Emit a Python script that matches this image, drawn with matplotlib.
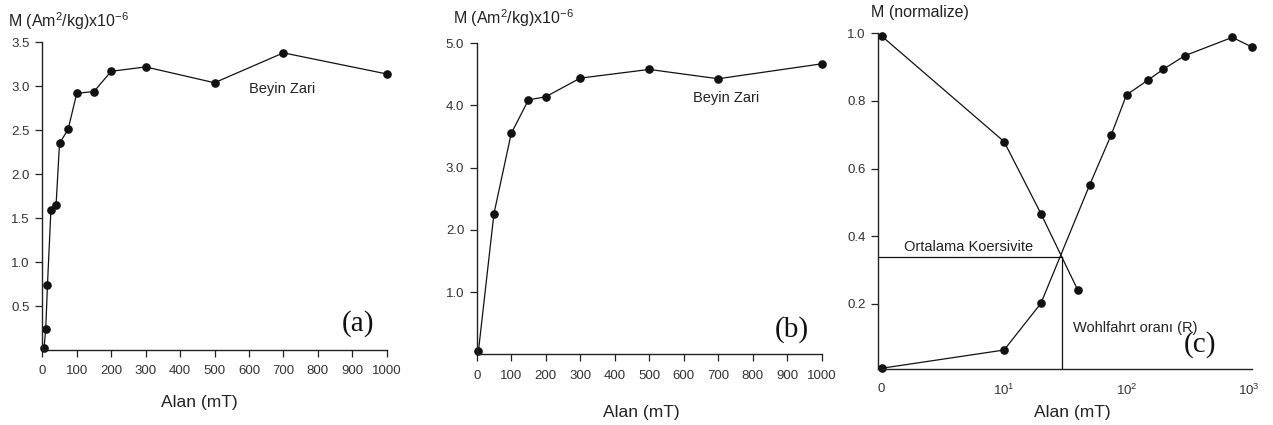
import numpy as np
import matplotlib
matplotlib.use('Agg')
import matplotlib.pyplot as plt

plt.rcParams['font.family'] = ['Liberation Sans', 'DejaVu Sans']
plt.rcParams['mathtext.fontset'] = 'custom'
plt.rcParams['mathtext.rm'] = 'Liberation Sans'
plt.rcParams['mathtext.it'] = 'Liberation Sans'

# (a) Beyin Zari - IRM
alan_a = [5, 10, 15, 25, 40, 50, 75, 100, 150, 200, 300, 500, 700, 1000]
m_a = [0.02, 0.24, 0.74, 1.59, 1.65, 2.35, 2.51, 2.92, 2.94, 3.17, 3.22, 3.04, 3.38, 3.14]

# (b) Beyin Zari
alan_b = [5, 50, 100, 150, 200, 300, 500, 700, 1000]
m_b = [0.05, 2.26, 3.55, 4.09, 4.14, 4.44, 4.58, 4.43, 4.67]

# (c) normalize, "0" label sits at 10^0
alan_c_af = [1, 10, 20, 40]
m_c_af = [0.992, 0.68, 0.467, 0.241]
alan_c_irm = [1, 10, 20, 50, 75, 100, 150, 200, 300, 730, 1050]
m_c_irm = [0.01, 0.064, 0.202, 0.552, 0.70, 0.818, 0.862, 0.894, 0.934, 0.988, 0.96]
kes_x = 29.5   # kesisim noktasi
kes_y = 0.34

ticks_a = [0, 100, 200, 300, 400, 500, 600, 700, 800, 900, 1000]
yticks_a = [0.5, 1.0, 1.5, 2.0, 2.5, 3.0, 3.5]
yticks_b = [1.0, 2.0, 3.0, 4.0, 5.0]
yticks_c = [0.2, 0.4, 0.6, 0.8, 1.0]
xticks_c = [1, 10, 100, 1000]
xlabels_c = ['0', '$10^1$', '$10^2$', '$10^3$']

W, H = 1273, 425
fig = plt.figure(figsize=(W/100, H/100), dpi=100)

def px(x0, y0, x1, y1):
    # pixel kutusu -> figure kesri
    return [x0/W, 1-y1/H, (x1-x0)/W, (y1-y0)/H]

line_kw = dict(color='#111111', lw=0.9, marker='o', ms=5.2, mfc='#111111', mec='#111111', clip_on=False)
tcol = '#333333'

def style(ax):
    ax.spines['top'].set_visible(False)
    ax.spines['right'].set_visible(False)
    for s in ['left', 'bottom']:
        ax.spines[s].set_linewidth(1.0)
        ax.spines[s].set_color('#222222')
    ax.tick_params(direction='out', length=5, width=0.9, color='#222222', labelsize=9.5, labelcolor=tcol)
    ax.tick_params(axis='x', pad=6)
    ax.tick_params(axis='y', pad=4)

ylab = 'M (Am$^2$/kg)x10$^{-6}$'

######## (a)
ax1 = fig.add_axes(px(42.3, 42.3, 386.7, 350))
ax1.plot(alan_a, m_a, **line_kw)
ax1.set_xlim(0, 1000)
ax1.set_ylim(0, 3.5)
ax1.set_xticks(ticks_a)
ax1.set_yticks(yticks_a)
ax1.set_yticklabels(['%.1f' % v for v in yticks_a])
style(ax1)
ax1.text(600, 2.97, 'Beyin Zari', fontsize=10.5, color='#222222', va='center', ha='left')
ax1.text(918, 0.30, '(a)', fontsize=21, family='Liberation Serif', va='center', ha='center', color='#111111')
fig.text(8/W, 1-21/H, ylab, fontsize=11.5, va='center', ha='left', color='#222222')
fig.text(199/W, 1-403/H, 'Alan (mT)', fontsize=12.5, va='center', ha='center', color='#222222')

######## (b)
ax2 = fig.add_axes(px(476.7, 43.3, 821.7, 354.3))
ax2.plot(alan_b, m_b, **line_kw)
ax2.set_xlim(0, 1000)
ax2.set_ylim(0, 5.0)
ax2.set_xticks(ticks_a)
ax2.set_yticks(yticks_b)
ax2.set_yticklabels(['%.1f' % v for v in yticks_b])
style(ax2)
ax2.text(626, 4.12, 'Beyin Zari', fontsize=10.5, color='#222222', va='center', ha='left')
ax2.text(912, 0.40, '(b)', fontsize=21, family='Liberation Serif', va='center', ha='center', color='#111111')
fig.text(453/W, 1-18/H, ylab, fontsize=11.5, va='center', ha='left', color='#222222')
fig.text(641.7/W, 1-412/H, 'Alan (mT)', fontsize=12.5, va='center', ha='center', color='#222222')

######## (c)
ax3 = fig.add_axes(px(878.3, 33.3, 1252.3, 369.3))
ax3.set_xscale('log')
ax3.plot(alan_c_af, m_c_af, **line_kw)
ax3.plot(alan_c_irm, m_c_irm, **line_kw)
ax3.set_xlim(0.94, 1064)
ax3.set_ylim(0.007, 1.0)
# ortalama koersivite cizgileri
ax3.plot([0.94, kes_x], [kes_y, kes_y], color='#111111', lw=0.9)
ax3.plot([kes_x, kes_x], [0.007, kes_y], color='#111111', lw=0.9)
ax3.set_xticks(xticks_c)
ax3.set_xticklabels(xlabels_c)
ax3.xaxis.set_minor_locator(matplotlib.ticker.NullLocator())
ax3.set_yticks(yticks_c)
ax3.set_yticklabels(['%.1f' % v for v in yticks_c])
style(ax3)
ax3.tick_params(axis='x', length=0, pad=10)
ax3.tick_params(axis='y', pad=4)
ax3.text(1.53, 0.367, 'Ortalama Koersivite', fontsize=10.5, color='#222222', va='center', ha='left')
ax3.text(36.3, 0.129, 'Wohlfahrt oranı (R)', fontsize=10.5, color='#222222', va='center', ha='left')
ax3.text(398, 0.079, '(c)', fontsize=21, family='Liberation Serif', va='center', ha='center', color='#111111')
fig.text(871/W, 1-12/H, 'M (normalize)', fontsize=11.5, va='center', ha='left', color='#222222')
fig.text(1072/W, 1-412/H, 'Alan (mT)', fontsize=12.5, va='center', ha='center', color='#222222')

plt.savefig('out.png', dpi=100)
